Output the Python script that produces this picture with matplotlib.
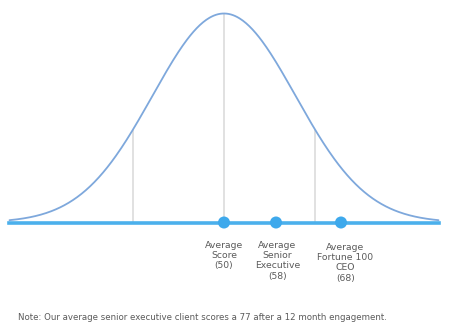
import matplotlib.pyplot as plt
import numpy as np

# bell curve of scores
mean_score = 50
sd_score = 11
curve_lo, curve_hi = 17, 83
guide_scores = [36, 64]

# marked scores on the baseline
marker_scores = [50, 58, 68]
marker_labels = ['Average\nScore\n(50)',
                 'Average\nSenior\nExecutive\n(58)',
                 'Average\nFortune 100\nCEO\n(68)']
label_dx = [0, 1, 3]
label_dy = [-13, -13, -14.5]

note = 'Note: Our average senior executive client scores a 77 after a 12 month engagement.'

def pdf(s):
    return np.exp(-0.5 * ((s - mean_score) / sd_score) ** 2) / (sd_score * np.sqrt(2 * np.pi))

peak = pdf(mean_score)
xs = np.linspace(curve_lo, curve_hi, 400)

fig = plt.figure(figsize=(4.49, 3.31), dpi=100)
ax = fig.add_axes([0, 0, 1, 1])
ax.set_axis_off()

# pixel layout: baseline 108.5px from bottom, peak 209px above it
ax.set_xlim(mean_score - 224 / 6.5, mean_score + 225 / 6.5)
ax.set_ylim(-108.5 / 209 * peak, (331 - 108.5) / 209 * peak)

ax.plot(xs, pdf(xs), color='#7ea8dc', lw=1.3, solid_capstyle='round', zorder=2)
ax.vlines([mean_score], 0, peak, color='#dcdcdc', lw=1.2, zorder=1)
ax.vlines(guide_scores, 0, pdf(np.array(guide_scores)), color='#dcdcdc', lw=1.2, zorder=1)
ax.plot([curve_lo, curve_hi], [0, 0], color='#4bb0ec', lw=2.6, zorder=3)
ax.scatter(marker_scores, [0] * len(marker_scores), s=75, color='#3ea9ec', zorder=4, edgecolors='none')

for s, lab, dx, dy in zip(marker_scores, marker_labels, label_dx, label_dy):
    ax.annotate(lab, (s, 0), xytext=(dx, dy), textcoords='offset points',
                ha='center', va='top', fontsize=6.7, color='#5a5a5a',
                linespacing=1.2, family='DejaVu Sans')

fig.text(18 / 449, 1 - 318 / 331, note, ha='left', va='center',
         fontsize=6.25, color='#5a5a5a', family='DejaVu Sans')

fig.savefig('out.png', dpi=100)
